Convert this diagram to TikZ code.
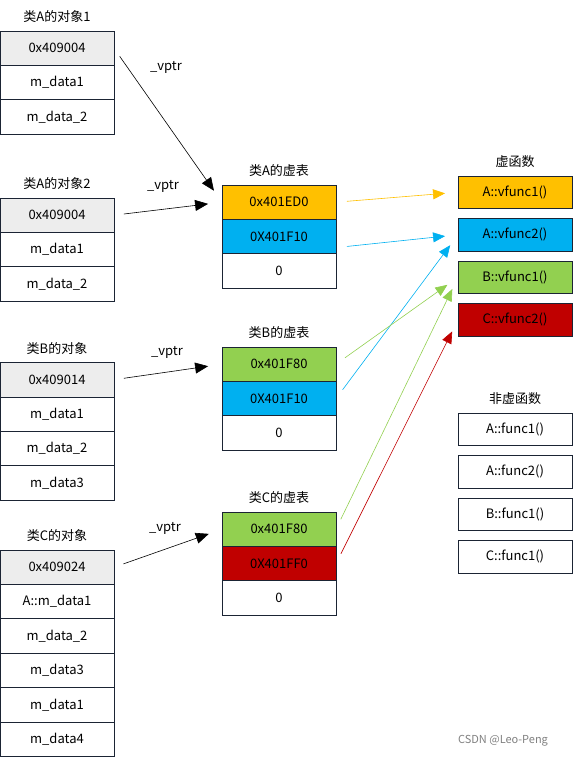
\documentclass[tikz,border=0pt]{standalone}
\usepackage{fontspec}
\setmainfont{Noto Sans CJK SC}
\usetikzlibrary{positioning,arrows.meta}
\definecolor{boxline}{HTML}{1B2434}
\definecolor{ptrgray}{HTML}{EDEDED}
\definecolor{vorange}{HTML}{FFC000}
\definecolor{vblue}{HTML}{00B0F0}
\definecolor{vgreen}{HTML}{92D050}
\definecolor{vred}{HTML}{C00000}

\begin{document}
\begin{tikzpicture}[x=1pt, y=-1pt,
    every node/.style={font=\fontsize{13}{15}\selectfont},
    cell/.style={draw=boxline, line width=.8pt, minimum width=114pt, minimum height=34.4pt, inner sep=0pt, outer sep=0pt},
    fbox/.style={cell, minimum height=32.5pt},
    caption/.style={inner sep=1pt},
    vptr/.style={-{Triangle[length=13pt,width=11pt]}, line width=.6pt, shorten <=10pt, shorten >=14pt},
    vcall/.style={-{Triangle[length=12pt,width=10pt]}, line width=.6pt, shorten <=11pt, shorten >=13pt}]
    \useasboundingbox (0,0) rectangle (573,757);

    % objects
    \node [cell, fill=ptrgray, anchor=north] (a1v) at (57,31) {0x409004};
    \node [cell, below=0pt of a1v] (a1d1) {m\_data1};
    \node [cell, below=0pt of a1d1] (a1d2) {m\_data\_2};
    \node [caption, above=7pt of a1v] (a1t) {类A的对象1};

    \node [cell, fill=ptrgray, anchor=north] (a2v) at (57,198) {0x409004};
    \node [cell, below=0pt of a2v] (a2d1) {m\_data1};
    \node [cell, below=0pt of a2d1] (a2d2) {m\_data\_2};
    \node [caption, above=7pt of a2v] (a2t) {类A的对象2};

    \node [cell, fill=ptrgray, anchor=north] (bv) at (57,362.5) {0x409014};
    \node [cell, below=0pt of bv] (bd1) {m\_data1};
    \node [cell, below=0pt of bd1] (bd2) {m\_data\_2};
    \node [cell, below=0pt of bd2] (bd3) {m\_data3};
    \node [caption, above=7pt of bv] (bt) {类B的对象};

    \node [cell, fill=ptrgray, anchor=north] (cv) at (57,550) {0x409024};
    \node [cell, below=0pt of cv] (cd1) {A::m\_data1};
    \node [cell, below=0pt of cd1] (cd2) {m\_data\_2};
    \node [cell, below=0pt of cd2] (cd3) {m\_data3};
    \node [cell, below=0pt of cd3] (cd4) {m\_data1};
    \node [cell, below=0pt of cd4] (cd5) {m\_data4};
    \node [caption, above=7pt of cv] (ct) {类C的对象};

    % vtables
    \node [cell, fill=vorange, anchor=north] (vtA1) at (279,185) {0x401ED0};
    \node [cell, fill=vblue, below=0pt of vtA1] (vtA2) {0X401F10};
    \node [cell, below=0pt of vtA2] (vtA3) {0};
    \node [caption, above=7pt of vtA1] (vtAt) {类A的虚表};

    \node [cell, fill=vgreen, anchor=north] (vtB1) at (279,347) {0x401F80};
    \node [cell, fill=vblue, below=0pt of vtB1] (vtB2) {0X401F10};
    \node [cell, below=0pt of vtB2] (vtB3) {0};
    \node [caption, above=7pt of vtB1] (vtBt) {类B的虚表};

    \node [cell, fill=vgreen, anchor=north] (vtC1) at (279,512) {0x401F80};
    \node [cell, fill=vred, below=0pt of vtC1] (vtC2) {0X401FF0};
    \node [cell, below=0pt of vtC2] (vtC3) {0};
    \node [caption, above=7pt of vtC1] (vtCt) {类C的虚表};

    % functions
    \node [fbox, fill=vorange, anchor=north] (fA1) at (515,176) {A::vfunc1()};
    \node [fbox, fill=vblue, below=10pt of fA1] (fA2) {A::vfunc2()};
    \node [fbox, fill=vgreen, below=10pt of fA2] (fB1) {B::vfunc1()};
    \node [fbox, fill=vred, below=10pt of fB1] (fC2) {C::vfunc2()};
    \node [caption, above=7pt of fA1] (vft) {虚函数};

    \node [fbox, anchor=north] (gA1) at (515,413) {A::func1()};
    \node [fbox, below=10pt of gA1] (gA2) {A::func2()};
    \node [fbox, below=10pt of gA2] (gB1) {B::func1()};
    \node [fbox, below=10pt of gB1] (gC1) {C::func1()};
    \node [caption, above=7pt of gA1] (nft) {非虚函数};

    % pointers
    \draw [vptr] (a1v.east) -- (vtA1.west);
    \draw [vptr] (a2v.east) -- (vtA1.west);
    \draw [vptr] (bv.east) -- (vtB1.west);
    \draw [vptr] (cv.east) -- (vtC1.west);
    \node (p1) at (166,67) {\_vptr};
    \node (p2) at (163,186) {\_vptr};
    \node (p3) at (167,352) {\_vptr};
    \node (p4) at (165,528) {\_vptr};

    \draw [vcall, vorange] (vtA1.east) -- (fA1.west);
    \draw [vcall, vblue] ([yshift=-11pt]vtA2.east) -- (fA2.west);
    \draw [vcall, vblue] (vtB2.east) -- (fA2.west);
    \draw [vcall, vgreen] (vtB1.east) -- (fB1.west);
    \draw [vcall, vgreen] (vtC1.east) -- (fB1.west);
    \draw [vcall, vred] (vtC2.east) -- (fC2.west);

    \node [text=gray, font=\fontsize{11}{13}\selectfont] (mark) at (503,741) {CSDN @Leo-Peng};
\end{tikzpicture}
\end{document}
